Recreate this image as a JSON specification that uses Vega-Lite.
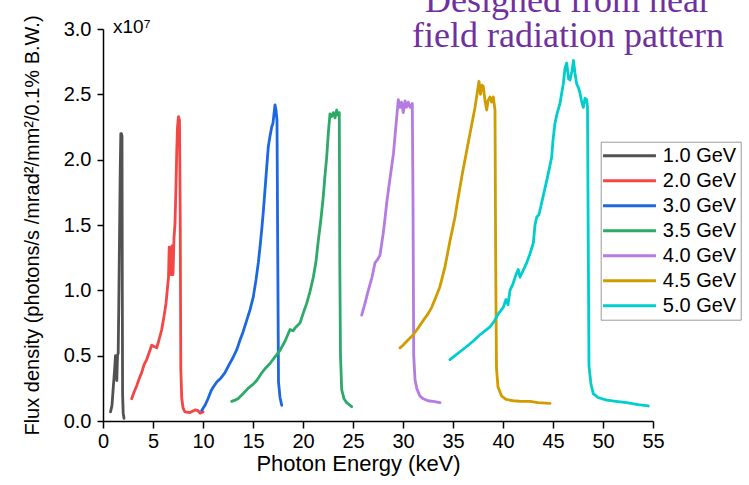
{
  "$schema": "https://vega.github.io/schema/vega-lite/v6.json",
  "width": 550,
  "height": 392,
  "autosize": {"type": "none"},
  "padding": {"left": 103, "top": 29, "right": 96, "bottom": 64},
  "background": "white",
  "config": {"view": {"stroke": null}, "font": "Liberation Sans"},
  "layer": [
    {
      "data": {
        "values": [
          {"E": 0.75, "F": 0.07, "s": "1.0 GeV"}, {"E": 0.9, "F": 0.12, "s": "1.0 GeV"}, {"E": 1.05, "F": 0.28, "s": "1.0 GeV"}, {"E": 1.15, "F": 0.38, "s": "1.0 GeV"}, {"E": 1.25, "F": 0.5, "s": "1.0 GeV"}, {"E": 1.32, "F": 0.44, "s": "1.0 GeV"}, {"E": 1.38, "F": 0.31, "s": "1.0 GeV"}, {"E": 1.45, "F": 0.5, "s": "1.0 GeV"}, {"E": 1.52, "F": 0.52, "s": "1.0 GeV"}, {"E": 1.58, "F": 0.9, "s": "1.0 GeV"}, {"E": 1.65, "F": 1.4, "s": "1.0 GeV"}, {"E": 1.72, "F": 1.9, "s": "1.0 GeV"}, {"E": 1.78, "F": 2.2, "s": "1.0 GeV"}, {"E": 1.84, "F": 2.2, "s": "1.0 GeV"}, {"E": 1.9, "F": 2.18, "s": "1.0 GeV"}, {"E": 1.93, "F": 1.0, "s": "1.0 GeV"}, {"E": 1.96, "F": 0.2, "s": "1.0 GeV"}, {"E": 2.02, "F": 0.06, "s": "1.0 GeV"}, {"E": 2.1, "F": 0.02, "s": "1.0 GeV"},

          {"E": 2.87, "F": 0.17, "s": "2.0 GeV"}, {"E": 3.1, "F": 0.22, "s": "2.0 GeV"}, {"E": 3.37, "F": 0.27, "s": "2.0 GeV"}, {"E": 3.6, "F": 0.32, "s": "2.0 GeV"}, {"E": 3.87, "F": 0.37, "s": "2.0 GeV"}, {"E": 4.1, "F": 0.43, "s": "2.0 GeV"}, {"E": 4.37, "F": 0.47, "s": "2.0 GeV"}, {"E": 4.6, "F": 0.52, "s": "2.0 GeV"}, {"E": 4.87, "F": 0.58, "s": "2.0 GeV"}, {"E": 5.1, "F": 0.57, "s": "2.0 GeV"}, {"E": 5.37, "F": 0.56, "s": "2.0 GeV"}, {"E": 5.6, "F": 0.62, "s": "2.0 GeV"}, {"E": 5.87, "F": 0.7, "s": "2.0 GeV"}, {"E": 6.1, "F": 0.8, "s": "2.0 GeV"}, {"E": 6.3, "F": 0.9, "s": "2.0 GeV"}, {"E": 6.45, "F": 1.02, "s": "2.0 GeV"}, {"E": 6.55, "F": 1.1, "s": "2.0 GeV"}, {"E": 6.62, "F": 1.33, "s": "2.0 GeV"}, {"E": 6.7, "F": 1.3, "s": "2.0 GeV"}, {"E": 6.8, "F": 1.12, "s": "2.0 GeV"}, {"E": 6.9, "F": 1.34, "s": "2.0 GeV"}, {"E": 7.0, "F": 1.12, "s": "2.0 GeV"}, {"E": 7.1, "F": 1.4, "s": "2.0 GeV"}, {"E": 7.2, "F": 1.51, "s": "2.0 GeV"}, {"E": 7.3, "F": 1.8, "s": "2.0 GeV"}, {"E": 7.37, "F": 2.05, "s": "2.0 GeV"}, {"E": 7.45, "F": 2.25, "s": "2.0 GeV"}, {"E": 7.55, "F": 2.33, "s": "2.0 GeV"}, {"E": 7.65, "F": 2.3, "s": "2.0 GeV"}, {"E": 7.72, "F": 1.6, "s": "2.0 GeV"}, {"E": 7.78, "F": 0.4, "s": "2.0 GeV"}, {"E": 7.87, "F": 0.18, "s": "2.0 GeV"}, {"E": 8.0, "F": 0.1, "s": "2.0 GeV"}, {"E": 8.2, "F": 0.07, "s": "2.0 GeV"}, {"E": 8.7, "F": 0.065, "s": "2.0 GeV"}, {"E": 9.2, "F": 0.085, "s": "2.0 GeV"}, {"E": 9.5, "F": 0.08, "s": "2.0 GeV"}, {"E": 9.7, "F": 0.06, "s": "2.0 GeV"}, {"E": 10.0, "F": 0.07, "s": "2.0 GeV"},

          {"E": 9.87, "F": 0.08, "s": "3.0 GeV"}, {"E": 10.2, "F": 0.12, "s": "3.0 GeV"}, {"E": 10.5, "F": 0.17, "s": "3.0 GeV"}, {"E": 10.8, "F": 0.23, "s": "3.0 GeV"}, {"E": 11.03, "F": 0.26, "s": "3.0 GeV"}, {"E": 11.4, "F": 0.3, "s": "3.0 GeV"}, {"E": 11.8, "F": 0.33, "s": "3.0 GeV"}, {"E": 12.2, "F": 0.37, "s": "3.0 GeV"}, {"E": 12.6, "F": 0.43, "s": "3.0 GeV"}, {"E": 13.03, "F": 0.49, "s": "3.0 GeV"}, {"E": 13.4, "F": 0.55, "s": "3.0 GeV"}, {"E": 13.7, "F": 0.62, "s": "3.0 GeV"}, {"E": 14.0, "F": 0.68, "s": "3.0 GeV"}, {"E": 14.37, "F": 0.77, "s": "3.0 GeV"}, {"E": 14.7, "F": 0.85, "s": "3.0 GeV"}, {"E": 15.03, "F": 0.95, "s": "3.0 GeV"}, {"E": 15.3, "F": 1.08, "s": "3.0 GeV"}, {"E": 15.53, "F": 1.21, "s": "3.0 GeV"}, {"E": 15.7, "F": 1.33, "s": "3.0 GeV"}, {"E": 15.87, "F": 1.46, "s": "3.0 GeV"}, {"E": 16.05, "F": 1.62, "s": "3.0 GeV"}, {"E": 16.2, "F": 1.77, "s": "3.0 GeV"}, {"E": 16.35, "F": 1.92, "s": "3.0 GeV"}, {"E": 16.53, "F": 2.1, "s": "3.0 GeV"}, {"E": 16.7, "F": 2.18, "s": "3.0 GeV"}, {"E": 16.87, "F": 2.25, "s": "3.0 GeV"}, {"E": 17.0, "F": 2.28, "s": "3.0 GeV"}, {"E": 17.1, "F": 2.35, "s": "3.0 GeV"}, {"E": 17.2, "F": 2.42, "s": "3.0 GeV"}, {"E": 17.3, "F": 2.38, "s": "3.0 GeV"}, {"E": 17.4, "F": 2.3, "s": "3.0 GeV"}, {"E": 17.48, "F": 1.2, "s": "3.0 GeV"}, {"E": 17.55, "F": 0.3, "s": "3.0 GeV"}, {"E": 17.7, "F": 0.18, "s": "3.0 GeV"}, {"E": 17.87, "F": 0.12, "s": "3.0 GeV"},

          {"E": 12.87, "F": 0.15, "s": "3.5 GeV"}, {"E": 13.2, "F": 0.16, "s": "3.5 GeV"}, {"E": 13.5, "F": 0.17, "s": "3.5 GeV"}, {"E": 14.03, "F": 0.21, "s": "3.5 GeV"}, {"E": 14.5, "F": 0.25, "s": "3.5 GeV"}, {"E": 15.0, "F": 0.28, "s": "3.5 GeV"}, {"E": 15.37, "F": 0.31, "s": "3.5 GeV"}, {"E": 15.8, "F": 0.36, "s": "3.5 GeV"}, {"E": 16.2, "F": 0.4, "s": "3.5 GeV"}, {"E": 16.7, "F": 0.44, "s": "3.5 GeV"}, {"E": 17.2, "F": 0.49, "s": "3.5 GeV"}, {"E": 17.7, "F": 0.54, "s": "3.5 GeV"}, {"E": 18.2, "F": 0.61, "s": "3.5 GeV"}, {"E": 18.7, "F": 0.7, "s": "3.5 GeV"}, {"E": 19.0, "F": 0.69, "s": "3.5 GeV"}, {"E": 19.3, "F": 0.72, "s": "3.5 GeV"}, {"E": 19.7, "F": 0.75, "s": "3.5 GeV"}, {"E": 20.0, "F": 0.82, "s": "3.5 GeV"}, {"E": 20.37, "F": 0.9, "s": "3.5 GeV"}, {"E": 20.7, "F": 0.99, "s": "3.5 GeV"}, {"E": 21.03, "F": 1.1, "s": "3.5 GeV"}, {"E": 21.3, "F": 1.22, "s": "3.5 GeV"}, {"E": 21.53, "F": 1.38, "s": "3.5 GeV"}, {"E": 21.8, "F": 1.55, "s": "3.5 GeV"}, {"E": 22.03, "F": 1.72, "s": "3.5 GeV"}, {"E": 22.2, "F": 1.88, "s": "3.5 GeV"}, {"E": 22.37, "F": 2.02, "s": "3.5 GeV"}, {"E": 22.55, "F": 2.22, "s": "3.5 GeV"}, {"E": 22.7, "F": 2.35, "s": "3.5 GeV"}, {"E": 22.85, "F": 2.33, "s": "3.5 GeV"}, {"E": 23.03, "F": 2.36, "s": "3.5 GeV"}, {"E": 23.2, "F": 2.32, "s": "3.5 GeV"}, {"E": 23.37, "F": 2.38, "s": "3.5 GeV"}, {"E": 23.5, "F": 2.34, "s": "3.5 GeV"}, {"E": 23.63, "F": 2.36, "s": "3.5 GeV"}, {"E": 23.68, "F": 1.2, "s": "3.5 GeV"}, {"E": 23.75, "F": 0.5, "s": "3.5 GeV"}, {"E": 23.87, "F": 0.24, "s": "3.5 GeV"}, {"E": 24.1, "F": 0.17, "s": "3.5 GeV"}, {"E": 24.37, "F": 0.14, "s": "3.5 GeV"}, {"E": 24.87, "F": 0.11, "s": "3.5 GeV"},

          {"E": 25.87, "F": 0.81, "s": "4.0 GeV"}, {"E": 26.2, "F": 0.9, "s": "4.0 GeV"}, {"E": 26.53, "F": 1.0, "s": "4.0 GeV"}, {"E": 26.9, "F": 1.1, "s": "4.0 GeV"}, {"E": 27.2, "F": 1.21, "s": "4.0 GeV"}, {"E": 27.5, "F": 1.24, "s": "4.0 GeV"}, {"E": 27.7, "F": 1.27, "s": "4.0 GeV"}, {"E": 28.03, "F": 1.44, "s": "4.0 GeV"}, {"E": 28.2, "F": 1.55, "s": "4.0 GeV"}, {"E": 28.37, "F": 1.67, "s": "4.0 GeV"}, {"E": 28.6, "F": 1.8, "s": "4.0 GeV"}, {"E": 28.87, "F": 1.95, "s": "4.0 GeV"}, {"E": 29.05, "F": 2.05, "s": "4.0 GeV"}, {"E": 29.2, "F": 2.18, "s": "4.0 GeV"}, {"E": 29.4, "F": 2.35, "s": "4.0 GeV"}, {"E": 29.53, "F": 2.46, "s": "4.0 GeV"}, {"E": 29.7, "F": 2.4, "s": "4.0 GeV"}, {"E": 29.85, "F": 2.44, "s": "4.0 GeV"}, {"E": 30.03, "F": 2.36, "s": "4.0 GeV"}, {"E": 30.2, "F": 2.45, "s": "4.0 GeV"}, {"E": 30.35, "F": 2.4, "s": "4.0 GeV"}, {"E": 30.53, "F": 2.44, "s": "4.0 GeV"}, {"E": 30.7, "F": 2.4, "s": "4.0 GeV"}, {"E": 30.93, "F": 2.43, "s": "4.0 GeV"}, {"E": 31.0, "F": 1.7, "s": "4.0 GeV"}, {"E": 31.07, "F": 0.5, "s": "4.0 GeV"}, {"E": 31.2, "F": 0.32, "s": "4.0 GeV"}, {"E": 31.37, "F": 0.25, "s": "4.0 GeV"}, {"E": 31.7, "F": 0.19, "s": "4.0 GeV"}, {"E": 32.03, "F": 0.17, "s": "4.0 GeV"}, {"E": 32.5, "F": 0.155, "s": "4.0 GeV"}, {"E": 33.0, "F": 0.15, "s": "4.0 GeV"}, {"E": 33.7, "F": 0.14, "s": "4.0 GeV"},

          {"E": 29.7, "F": 0.56, "s": "4.5 GeV"}, {"E": 30.0, "F": 0.58, "s": "4.5 GeV"}, {"E": 30.5, "F": 0.62, "s": "4.5 GeV"}, {"E": 31.03, "F": 0.66, "s": "4.5 GeV"}, {"E": 31.5, "F": 0.71, "s": "4.5 GeV"}, {"E": 32.03, "F": 0.77, "s": "4.5 GeV"}, {"E": 32.5, "F": 0.82, "s": "4.5 GeV"}, {"E": 32.87, "F": 0.87, "s": "4.5 GeV"}, {"E": 33.3, "F": 0.95, "s": "4.5 GeV"}, {"E": 33.7, "F": 1.03, "s": "4.5 GeV"}, {"E": 34.0, "F": 1.12, "s": "4.5 GeV"}, {"E": 34.2, "F": 1.18, "s": "4.5 GeV"}, {"E": 34.45, "F": 1.28, "s": "4.5 GeV"}, {"E": 34.7, "F": 1.38, "s": "4.5 GeV"}, {"E": 34.95, "F": 1.47, "s": "4.5 GeV"}, {"E": 35.2, "F": 1.56, "s": "4.5 GeV"}, {"E": 35.45, "F": 1.68, "s": "4.5 GeV"}, {"E": 35.7, "F": 1.79, "s": "4.5 GeV"}, {"E": 35.95, "F": 1.9, "s": "4.5 GeV"}, {"E": 36.2, "F": 2.0, "s": "4.5 GeV"}, {"E": 36.45, "F": 2.1, "s": "4.5 GeV"}, {"E": 36.7, "F": 2.2, "s": "4.5 GeV"}, {"E": 36.95, "F": 2.3, "s": "4.5 GeV"}, {"E": 37.2, "F": 2.4, "s": "4.5 GeV"}, {"E": 37.4, "F": 2.5, "s": "4.5 GeV"}, {"E": 37.6, "F": 2.6, "s": "4.5 GeV"}, {"E": 37.75, "F": 2.5, "s": "4.5 GeV"}, {"E": 37.9, "F": 2.57, "s": "4.5 GeV"}, {"E": 38.03, "F": 2.56, "s": "4.5 GeV"}, {"E": 38.2, "F": 2.45, "s": "4.5 GeV"}, {"E": 38.37, "F": 2.38, "s": "4.5 GeV"}, {"E": 38.5, "F": 2.45, "s": "4.5 GeV"}, {"E": 38.7, "F": 2.48, "s": "4.5 GeV"}, {"E": 38.85, "F": 2.44, "s": "4.5 GeV"}, {"E": 39.03, "F": 2.48, "s": "4.5 GeV"}, {"E": 39.2, "F": 2.38, "s": "4.5 GeV"}, {"E": 39.27, "F": 1.2, "s": "4.5 GeV"}, {"E": 39.35, "F": 0.4, "s": "4.5 GeV"}, {"E": 39.5, "F": 0.26, "s": "4.5 GeV"}, {"E": 39.87, "F": 0.19, "s": "4.5 GeV"}, {"E": 40.3, "F": 0.165, "s": "4.5 GeV"}, {"E": 41.03, "F": 0.155, "s": "4.5 GeV"}, {"E": 41.8, "F": 0.15, "s": "4.5 GeV"}, {"E": 42.7, "F": 0.15, "s": "4.5 GeV"}, {"E": 43.5, "F": 0.14, "s": "4.5 GeV"}, {"E": 44.7, "F": 0.135, "s": "4.5 GeV"},

          {"E": 34.7, "F": 0.47, "s": "5.0 GeV"}, {"E": 35.2, "F": 0.5, "s": "5.0 GeV"}, {"E": 35.7, "F": 0.53, "s": "5.0 GeV"}, {"E": 36.37, "F": 0.57, "s": "5.0 GeV"}, {"E": 37.0, "F": 0.61, "s": "5.0 GeV"}, {"E": 37.7, "F": 0.66, "s": "5.0 GeV"}, {"E": 38.2, "F": 0.69, "s": "5.0 GeV"}, {"E": 38.7, "F": 0.72, "s": "5.0 GeV"}, {"E": 39.1, "F": 0.76, "s": "5.0 GeV"}, {"E": 39.53, "F": 0.82, "s": "5.0 GeV"}, {"E": 40.03, "F": 0.87, "s": "5.0 GeV"}, {"E": 40.3, "F": 0.93, "s": "5.0 GeV"}, {"E": 40.5, "F": 0.89, "s": "5.0 GeV"}, {"E": 40.7, "F": 1.0, "s": "5.0 GeV"}, {"E": 41.0, "F": 1.05, "s": "5.0 GeV"}, {"E": 41.3, "F": 1.12, "s": "5.0 GeV"}, {"E": 41.53, "F": 1.16, "s": "5.0 GeV"}, {"E": 41.7, "F": 1.1, "s": "5.0 GeV"}, {"E": 42.0, "F": 1.15, "s": "5.0 GeV"}, {"E": 42.37, "F": 1.21, "s": "5.0 GeV"}, {"E": 42.7, "F": 1.28, "s": "5.0 GeV"}, {"E": 43.03, "F": 1.36, "s": "5.0 GeV"}, {"E": 43.2, "F": 1.5, "s": "5.0 GeV"}, {"E": 43.37, "F": 1.56, "s": "5.0 GeV"}, {"E": 43.6, "F": 1.58, "s": "5.0 GeV"}, {"E": 43.87, "F": 1.67, "s": "5.0 GeV"}, {"E": 44.1, "F": 1.75, "s": "5.0 GeV"}, {"E": 44.37, "F": 1.84, "s": "5.0 GeV"}, {"E": 44.6, "F": 1.92, "s": "5.0 GeV"}, {"E": 44.87, "F": 2.02, "s": "5.0 GeV"}, {"E": 45.0, "F": 2.15, "s": "5.0 GeV"}, {"E": 45.2, "F": 2.28, "s": "5.0 GeV"}, {"E": 45.4, "F": 2.35, "s": "5.0 GeV"}, {"E": 45.7, "F": 2.43, "s": "5.0 GeV"}, {"E": 45.85, "F": 2.5, "s": "5.0 GeV"}, {"E": 46.03, "F": 2.58, "s": "5.0 GeV"}, {"E": 46.2, "F": 2.7, "s": "5.0 GeV"}, {"E": 46.37, "F": 2.74, "s": "5.0 GeV"}, {"E": 46.55, "F": 2.62, "s": "5.0 GeV"}, {"E": 46.7, "F": 2.61, "s": "5.0 GeV"}, {"E": 46.9, "F": 2.68, "s": "5.0 GeV"}, {"E": 47.05, "F": 2.76, "s": "5.0 GeV"}, {"E": 47.2, "F": 2.66, "s": "5.0 GeV"}, {"E": 47.37, "F": 2.58, "s": "5.0 GeV"}, {"E": 47.55, "F": 2.55, "s": "5.0 GeV"}, {"E": 47.7, "F": 2.51, "s": "5.0 GeV"}, {"E": 47.85, "F": 2.45, "s": "5.0 GeV"}, {"E": 48.03, "F": 2.4, "s": "5.0 GeV"}, {"E": 48.2, "F": 2.47, "s": "5.0 GeV"}, {"E": 48.37, "F": 2.46, "s": "5.0 GeV"}, {"E": 48.45, "F": 2.4, "s": "5.0 GeV"}, {"E": 48.53, "F": 1.31, "s": "5.0 GeV"}, {"E": 48.6, "F": 0.42, "s": "5.0 GeV"}, {"E": 48.8, "F": 0.28, "s": "5.0 GeV"}, {"E": 49.03, "F": 0.21, "s": "5.0 GeV"}, {"E": 49.5, "F": 0.18, "s": "5.0 GeV"}, {"E": 50.37, "F": 0.16, "s": "5.0 GeV"}, {"E": 51.3, "F": 0.15, "s": "5.0 GeV"}, {"E": 52.37, "F": 0.14, "s": "5.0 GeV"}, {"E": 53.5, "F": 0.125, "s": "5.0 GeV"}, {"E": 54.53, "F": 0.115, "s": "5.0 GeV"}
        ]
      },
      "mark": {"type": "line", "strokeWidth": 2.8, "strokeJoin": "round", "strokeCap": "round"},
      "encoding": {
        "x": {
          "field": "E",
          "type": "quantitative",
          "scale": {"domain": [0, 55], "nice": false},
          "axis": {
            "values": [0, 5, 10, 15, 20, 25, 30, 35, 40, 45, 50, 55],
            "format": "d",
            "title": "Photon Energy (keV)",
            "titleAnchor": "middle",
            "titleX": 255,
            "grid": false,
            "tickSize": 7,
            "tickWidth": 1.5,
            "domainWidth": 1.5,
            "domainColor": "black",
            "tickColor": "black",
            "labelColor": "black",
            "titleColor": "black",
            "labelFont": "Liberation Sans",
            "titleFont": "Liberation Sans",
            "labelFontSize": 20,
            "titleFontSize": 22,
            "titleFontWeight": "normal",
            "labelPadding": 3,
            "titlePadding": 2,
            "labelFlush": false,
            "labelOverlap": false
          }
        },
        "y": {
          "field": "F",
          "type": "quantitative",
          "scale": {"domain": [0, 3], "nice": false},
          "axis": {
            "values": [0, 0.25, 0.5, 0.75, 1, 1.25, 1.5, 1.75, 2, 2.25, 2.5, 2.75, 3],
            "labelExpr": "datum.value % 0.5 == 0 ? format(datum.value, '.1f') : ''",
            "title": "Flux density (photons/s /mrad²/mm²/0.1% B.W.)",
            "grid": false,
            "tickSize": 6,
            "tickWidth": 1.5,
            "domainWidth": 1.5,
            "domainColor": "black",
            "tickColor": "black",
            "labelColor": "black",
            "titleColor": "black",
            "labelFont": "Liberation Sans",
            "titleFont": "Liberation Sans",
            "labelFontSize": 20,
            "titleFontSize": 20,
            "titleFontWeight": "normal",
            "labelPadding": 6,
            "titlePadding": 21,
            "labelFlush": false,
            "labelOverlap": false
          }
        },
        "color": {
          "field": "s",
          "type": "nominal",
          "scale": {
            "domain": ["1.0 GeV", "2.0 GeV", "3.0 GeV", "3.5 GeV", "4.0 GeV", "4.5 GeV", "5.0 GeV"],
            "range": ["#525252", "#F54646", "#1C68E0", "#2DAA68", "#B57BE3", "#D09C00", "#00CDCD"]
          },
          "legend": {
            "title": null,
            "orient": "none",
            "legendX": 497.7,
            "legendY": 112.7,
            "symbolType": "M-5,0H5",
            "symbolSize": 112,
            "symbolStrokeWidth": 3,
            "labelFont": "Liberation Sans",
            "labelFontSize": 20,
            "labelColor": "black",
            "strokeColor": "#9a9a9a",
            "fillColor": "white",
            "padding": 4,
            "rowPadding": 5,
            "symbolOffset": 14.8,
            "labelOffset": 23.3,
            "labelLimit": 200
          }
        }
      }
    },
    {
      "data": {"values": [{"t": "x10⁷"}]},
      "mark": {"type": "text", "align": "left", "baseline": "middle", "dx": 10, "dy": -2, "fontSize": 19, "font": "Liberation Sans", "color": "black"},
      "encoding": {
        "x": {"datum": 0},
        "y": {"datum": 3},
        "text": {"field": "t"}
      }
    },
    {
      "data": {"values": [{"t": ["Designed from near", "field radiation pattern"]}]},
      "mark": {"type": "text", "align": "center", "baseline": "alphabetic", "lineHeight": 35, "fontSize": 36, "font": "Liberation Serif", "color": "#7030A0"},
      "encoding": {
        "x": {"datum": 46.5},
        "y": {"datum": 3.13},
        "text": {"field": "t"}
      }
    }
  ]
}
